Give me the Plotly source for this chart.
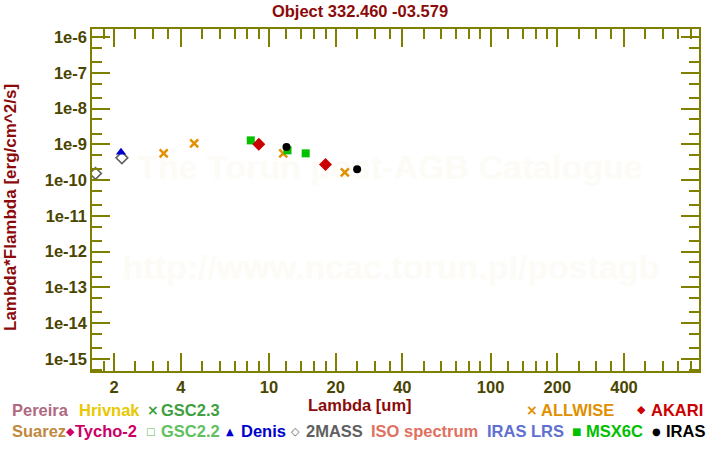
import plotly.graph_objects as go

# ---------------- data ----------------
allwise_lam = [3.35, 4.6, 11.6, 22.0]
allwise_flux = [5.6e-10, 1.07e-9, 5.6e-10, 1.64e-10]

akari_lam = [9.0, 18.0]
akari_flux = [1.0e-9, 2.75e-10]

msx_lam = [8.28, 12.13, 14.65]
msx_flux = [1.29e-9, 6.8e-10, 5.6e-10]

iras_lam = [12.0, 25.0]
iras_flux = [8.4e-10, 2.0e-10]

denis_lam = [2.15]
denis_flux = [5.97e-10]

tmass_lam = [1.65, 2.17]
tmass_flux = [1.54e-10, 4.2e-10]

x_major = [2, 4, 10, 20, 40, 100, 200, 400]
x_major_text = ["2", "4", "10", "20", "40", "100", "200", "400"]
x_minor = [1.8, 2.5, 3, 3.5, 5, 6, 7, 8, 9, 12, 14, 16, 18, 25, 30, 35,
           50, 60, 70, 80, 90, 120, 140, 160, 180, 250, 300, 350,
           500, 600, 700, 800]
y_exps = [-6, -7, -8, -9, -10, -11, -12, -13, -14, -15]
y_major = [10.0 ** e for e in y_exps]
y_major_text = ["1e%d" % e for e in y_exps]
y_minor = []
for e in y_exps + [-16]:
    y_minor += [5 * 10.0 ** e, 2 * 10.0 ** e]

title_text = "Object 332.460 -03.579"
x_title = "Lambda [um]"
y_title = "Lambda*Flambda [erg/cm^2/s]"

# legend rows: (symbol, symbol colour, label, label colour, sym_x, text_x)
legend_row1 = [
    (None, None, "Pereira", "#b06a80", None, 11),
    (None, None, "Hrivnak", "#e8c800", None, 78),
    ("×", "#40a040", "GSC2.3", "#40a040", 146, 160),
    ("×", "#e09000", "ALLWISE", "#e09000", 525, 540),
    ("◆", "#cc0000", "AKARI", "#cc0000", 636, 650),
]
legend_row2 = [
    (None, None, "Suarez", "#c08840", None, 11),
    ("◆", "#cc0066", "Tycho-2", "#cc0066", 65, 74),
    ("□", "#60c060", "GSC2.2", "#60c060", 145, 160),
    ("▲", "#0000cc", "Denis", "#0000cc", 225, 240),
    ("◇", "#606060", "2MASS", "#606060", 290, 305),
    (None, None, "ISO spectrum", "#e07060", None, 370),
    (None, None, "IRAS LRS", "#6070d0", None, 486),
    ("■", "#00c000", "MSX6C", "#00c000", 571, 585),
    ("●", "#000000", "IRAS", "#000000", 651, 665),
]
sym_size = {"×": 14, "◆": 11, "□": 10, "▲": 10, "◇": 11, "■": 10, "●": 10}

# ---------------- figure ----------------
W, H = 720, 450
ML, MR, MT, MB = 92, 21, 29, 79
FONT = "Liberation Sans, Arial, sans-serif"
AXC = "#808000"
TICKC = "#4a4500"
RED = "#8b0a0a"

fig = go.Figure()

fig.add_trace(go.Scatter(x=tmass_lam, y=tmass_flux, mode="markers",
                         marker=dict(symbol="diamond-open", size=9, color="#606060",
                                     line=dict(width=1.6, color="#606060"))))
fig.add_trace(go.Scatter(x=denis_lam, y=denis_flux, mode="markers",
                         marker=dict(symbol="triangle-up", size=9, color="#0000cc")))
fig.add_trace(go.Scatter(x=allwise_lam, y=allwise_flux, mode="markers",
                         marker=dict(symbol="x-thin", size=8, color="#e09000",
                                     line=dict(width=2.5, color="#e09000"))))
fig.add_trace(go.Scatter(x=msx_lam, y=msx_flux, mode="markers",
                         marker=dict(symbol="square", size=8, color="#00c000")))
fig.add_trace(go.Scatter(x=akari_lam, y=akari_flux, mode="markers",
                         marker=dict(symbol="diamond", size=10, color="#cc0000")))
fig.add_trace(go.Scatter(x=iras_lam, y=iras_flux, mode="markers",
                         marker=dict(symbol="circle", size=8, color="#000000")))

axis_common = dict(
    type="log", showgrid=False, zeroline=False,
    showline=True, linecolor=AXC, linewidth=1.5, mirror="ticks",
    ticks="inside", ticklen=18, tickwidth=1.5, tickcolor=AXC,
    tickfont=dict(family=FONT, size=16.5, color=TICKC, weight="bold"),
)

fig.update_xaxes(
    **axis_common, range=[0.2017, 2.9404],
    tickmode="array", tickvals=x_major, ticktext=x_major_text,
    minor=dict(tickmode="array", tickvals=x_minor, ticks="inside", ticklen=10,
               tickwidth=1.5, tickcolor=AXC, showgrid=False),
)
fig.update_yaxes(
    **axis_common, range=[-15.335, -5.776],
    tickmode="array", tickvals=y_major, ticktext=y_major_text,
    minor=dict(tickmode="array", tickvals=y_minor, ticks="inside", ticklen=10,
               tickwidth=1.5, tickcolor=AXC, showgrid=False),
)

annotations = []
# axis titles
annotations.append(dict(text=x_title, xref="paper", yref="paper",
                        x=(360 - ML) / (W - ML - MR), y=-(405 - (H - MB)) / (H - MT - MB),
                        xanchor="center", yanchor="middle", showarrow=False,
                        font=dict(family=FONT, size=16.5, color=RED, weight="bold")))
annotations.append(dict(text=y_title, xref="paper", yref="paper",
                        x=-(ML - 10) / (W - ML - MR), y=(H - MB - 208) / (H - MT - MB),
                        xanchor="center", yanchor="middle", showarrow=False, textangle=-90,
                        font=dict(family=FONT, size=17, color=RED, weight="bold")))


def add_row(row, ypix):
    for sym, sc, label, lc, sx, tx in row:
        if sym is not None:
            annotations.append(dict(text=sym, xref="paper", yref="paper",
                                    x=(sx - ML) / (W - ML - MR),
                                    y=(H - MB - ypix) / (H - MT - MB),
                                    xanchor="left", yanchor="middle", showarrow=False,
                                    font=dict(family="DejaVu Sans", size=sym_size[sym],
                                              color=sc, weight="bold"),
                                    borderpad=0))
        annotations.append(dict(text=label, xref="paper", yref="paper",
                                x=(tx - ML) / (W - ML - MR),
                                y=(H - MB - ypix) / (H - MT - MB),
                                xanchor="left", yanchor="middle", showarrow=False,
                                font=dict(family=FONT, size=16.5, color=lc, weight="bold"),
                                borderpad=0))


add_row(legend_row1, 410)
add_row(legend_row2, 431)

# watermark (below the data)
wm_color = "#fdfbf6"
shapes = []
for txt, cx, cy in [("The Torun post-AGB Catalogue", 390, 164),
                    ("http://www.ncac.torun.pl/postagb", 391, 264)]:
    px = (cx - ML) / (W - ML - MR)
    py = (H - MB - cy) / (H - MT - MB)
    shapes.append(dict(type="rect", xref="paper", yref="paper",
                       x0=px - 0.45, x1=px + 0.45, y0=py - 0.08, y1=py + 0.08,
                       line=dict(width=0), fillcolor="rgba(0,0,0,0)", layer="below",
                       label=dict(text=txt, textposition="middle center",
                                  font=dict(family=FONT, size=34, color=wm_color,
                                            weight="bold"))))

fig.update_layout(
    width=W, height=H,
    margin=dict(l=ML, r=MR, t=MT, b=MB),
    paper_bgcolor="white", plot_bgcolor="white",
    showlegend=False,
    title=dict(text=title_text, x=0.5, xref="container", xanchor="center",
               y=1 - 11 / H, yref="container", yanchor="middle",
               font=dict(family=FONT, size=16.5, color=RED, weight="bold")),
    annotations=annotations,
    shapes=shapes,
)

fig.write_html("out.html", config={"displayModeBar": False},
               post_script="document.body.style.margin='0px';document.body.style.padding='0px';")
